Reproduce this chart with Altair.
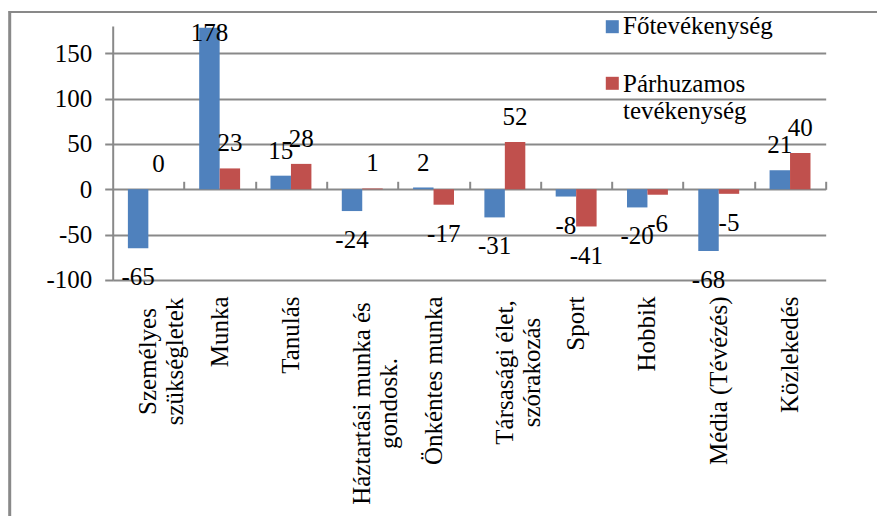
import altair as alt
import pandas as pd

# Activity categories ("\n" marks the line break in the axis label)
categories = [
    "Személyes\nszükségletek",
    "Munka",
    "Tanulás",
    "Háztartási munka és\ngondosk.",
    "Önkéntes munka",
    "Társasági élet,\nszórakozás",
    "Sport",
    "Hobbik",
    "Média (Tévézés)",
    "Közlekedés",
]
series = ["Főtevékenység", "Párhuzamos tevékenység"]
main_activity = [-65, 178, 15, -24, 2, -31, -8, -20, -68, 21]
parallel_activity = [0, 23, 28, 1, -17, 52, -41, -6, -5, 40]
colors = ["#4F81BD", "#C0504D"]
y_ticks = [-100, -50, 0, 50, 100, 150]

rows = []
for cat, a, b in zip(categories, main_activity, parallel_activity):
    rows.append({"category": cat, "series": series[0], "value": a, "label": str(a)})
    rows.append({"category": cat, "series": series[1], "value": b, "label": str(b)})
df = pd.DataFrame(rows)

FONT = "Liberation Serif"
FS = 25
GREY = "#898989"
W, H = 713, 254
YMIN, YMAX = -100, 180
zero_px = H * YMAX / (YMAX - YMIN)

PAD_INNER = 0.426
step = W / len(categories)  # paddingOuter = paddingInner / 2 keeps step = W / n
x_scale = alt.Scale(paddingInner=PAD_INNER, paddingOuter=PAD_INNER / 2)
y_scale = alt.Scale(domain=[YMIN, YMAX], nice=False, zero=False)
color_scale = alt.Scale(domain=series, range=colors)
offset_scale = alt.Scale(paddingInner=0, paddingOuter=0)

y_axis = alt.Axis(
    values=y_ticks,
    labelExpr="datum.value + ''",
    labelFont=FONT,
    labelFontSize=FS,
    labelColor="black",
    labelPadding=13,
    tickSize=8,
    tickColor=GREY,
    tickWidth=2,
    domainColor=GREY,
    domainWidth=2,
    gridColor=GREY,
    gridWidth=2,
)

# Two-line category labels are centred line by line
multi = [c for c in categories if "\n" in c]
pad_multi = {multi[0]: 81, multi[1]: 123, multi[2]: 92}
label_align = {
    "condition": {"test": "indexof(datum.label, '\\n') >= 0", "value": "center"},
    "value": "right",
}
label_padding = {
    "condition": [
        {"test": "indexof(datum.label, '" + k.split("\n")[0] + "') == 0", "value": v}
        for k, v in pad_multi.items()
    ],
    "value": 16,
}

bars = alt.Chart(df).mark_bar().encode(
    x=alt.X(
        "category:N",
        sort=categories,
        scale=x_scale,
        title=None,
        axis=alt.Axis(
            orient="bottom",
            labelAngle=-90,
            labelAlign=label_align,
            labelBaseline="middle",
            labelPadding=label_padding,
            labelExpr="split(datum.label, '\\n')",
            labelFont=FONT,
            labelFontSize=FS,
            labelLineHeight=27,
            labelColor="black",
            labelLimit=500,
            domain=False,
            ticks=False,
            grid=False,
        ),
    ),
    xOffset=alt.XOffset("series:N", sort=series, scale=offset_scale),
    y=alt.Y("value:Q", scale=y_scale, title=None, axis=y_axis),
    color=alt.Color("series:N", scale=color_scale, legend=None),
)

# Value labels: above positive bars, below negative ones, kept inside the plot.
# This layer also carries the category boundary ticks on the zero line.
labels = alt.Chart(df).transform_calculate(
    lab_y="datum.value >= 0 ? min(datum.value + 27.5, 172) : datum.value - 32"
).mark_text(font=FONT, fontSize=FS, color="black", baseline="middle", align="center").encode(
    x=alt.X(
        "category:N",
        sort=categories,
        scale=x_scale,
        title=None,
        axis=alt.Axis(
            orient="top",
            offset=-zero_px,
            labels=False,
            domain=False,
            ticks=True,
            bandPosition=1,
            tickOffset=step * PAD_INNER / 2,
            tickSize=8,
            tickColor=GREY,
            tickWidth=2,
            grid=False,
        ),
    ),
    xOffset=alt.XOffset("series:N", sort=series, scale=offset_scale),
    y=alt.Y("lab_y:Q", scale=y_scale, title=None, axis=y_axis),
    text="label:N",
)

# Outer frame of the chart area
one = alt.Data(values=[{}])
frame_top = alt.Chart(one).mark_rule(color=GREY, strokeWidth=2).encode(
    x=alt.value(-104), x2=alt.value(770), y=alt.value(-14)
)
frame_left = alt.Chart(one).mark_rule(color=GREY, strokeWidth=3).encode(
    x=alt.value(-103), y=alt.value(-15), y2=alt.value(500)
)

# Legend in the upper right corner
legend_layers = []
sym_y = [0.7, 57.3]
txt_y = [8.3, 66.0]
for name, col, sy, ty in zip(series, colors, sym_y, txt_y):
    legend_layers.append(
        alt.Chart(one).mark_square(size=169, color=col, opacity=1).encode(
            x=alt.value(499.6), y=alt.value(sy)
        )
    )
    legend_layers.append(
        alt.Chart(one).mark_text(
            text=name, lineBreak=" ", font=FONT, fontSize=FS, color="black",
            align="left", baseline="alphabetic", lineHeight=27,
        ).encode(x=alt.value(510.3), y=alt.value(ty))
    )

chart = alt.layer(bars, labels, frame_top, frame_left, *legend_layers).properties(
    width=W,
    height=H,
    autosize=alt.AutoSizeParams(type="none"),
    padding={"left": 112.7, "top": 26, "right": 51, "bottom": 236},
    background="white",
).configure_view(stroke=None)

chart.save("out.html", embed_options={"renderer": "svg", "actions": False})
